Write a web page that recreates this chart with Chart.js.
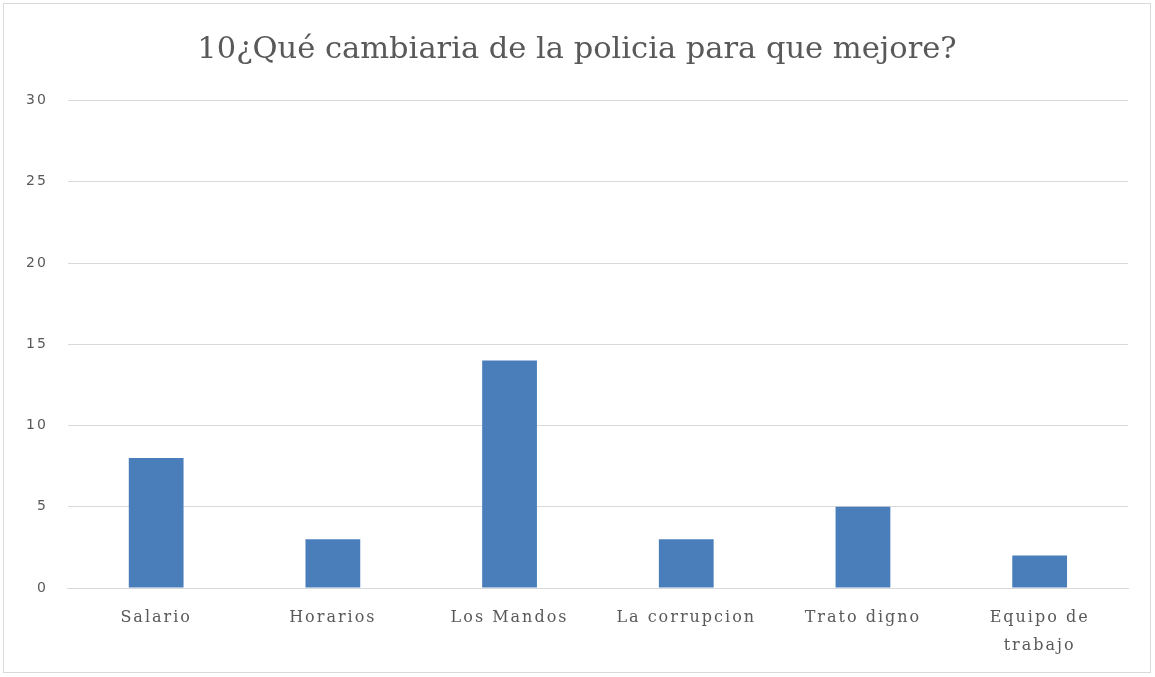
<!DOCTYPE html>
<html>
<head>
    <meta charset="utf-8">
    <title>10¿Qué cambiaria de la policia para que mejore?</title>
    <script src="https://cdn.jsdelivr.net/npm/chart.js"></script>
    <style>
        body {
            margin: 0;
            background: #ffffff;
        }
        .frame {
            position: absolute;
            left: 3px;
            top: 3px;
            width: 1146px;
            height: 668px;
            border: 1px solid #d9d9d9;
            background: #ffffff;
        }
    </style>
</head>
<body>
    <div class="frame">
        <canvas id="chart" width="1146" height="668"></canvas>
    </div>

    <script>
        const categories = ['Salario', 'Horarios', 'Los Mandos', 'La corrupcion', 'Trato digno', ['Equipo de', 'trabajo']];
        const values = [8, 3, 14, 3, 5, 2];
        const yTicks = [0, 5, 10, 15, 20, 25, 30];

        const pad = { left: 2, right: 22, top: 10, bottom: 4 };

        // axis labels in the original are drawn a little spaced out, the title is not,
        // and the title is centred on the whole frame rather than the padded box
        const spacing = {
            id: 'spacing',
            beforeLayout(chart) { chart.ctx.letterSpacing = '2px'; },
            afterLayout(chart) {
                const t = chart.titleBlock;
                if (t && !t._plain) {
                    const draw = t.draw.bind(t);
                    t.draw = area => {
                        const c = chart.ctx;
                        const old = c.letterSpacing;
                        c.save();
                        c.letterSpacing = '0px';
                        c.translate((pad.right - pad.left) / 2, 0);
                        draw(area);
                        c.restore();
                        c.letterSpacing = old;
                    };
                    t._plain = true;
                }
            },
            beforeDraw(chart) { chart.ctx.letterSpacing = '2px'; }
        };

        const ctx = document.getElementById('chart').getContext('2d');
        new Chart(ctx, {
            type: 'bar',
            data: {
                labels: categories,
                datasets: [{
                    label: 'Serie 1',
                    data: values,
                    backgroundColor: '#4a7ebb',
                    borderWidth: 0,
                    categoryPercentage: 1,
                    barPercentage: 0.31
                }]
            },
            plugins: [spacing],
            options: {
                responsive: false,
                animation: false,
                layout: { padding: pad },
                plugins: {
                    legend: { display: false },
                    tooltip: { enabled: false },
                    title: {
                        display: true,
                        text: '10¿Qué cambiaria de la policia para que mejore?',
                        color: '#595959',
                        font: { family: 'DejaVu Serif', size: 30.5, weight: 'normal' },
                        padding: { top: 18, bottom: 32 }
                    }
                },
                scales: {
                    x: {
                        grid: { display: false },
                        border: { color: '#d9d9d9', width: 1 },
                        ticks: {
                            color: '#595959',
                            font: { family: 'DejaVu Serif', size: 16, lineHeight: 1.75 },
                            padding: 8,
                            maxRotation: 0
                        }
                    },
                    y: {
                        min: 0,
                        max: 30,
                        afterBuildTicks: axis => {
                            axis.ticks = yTicks.map(v => ({ value: v }));
                        },
                        grid: { color: '#d9d9d9', lineWidth: 1, drawTicks: false },
                        border: { display: false },
                        ticks: {
                            color: '#595959',
                            font: { family: 'DejaVu Sans', size: 14 },
                            padding: 20
                        }
                    }
                }
            }
        });
    </script>
</body>
</html>
